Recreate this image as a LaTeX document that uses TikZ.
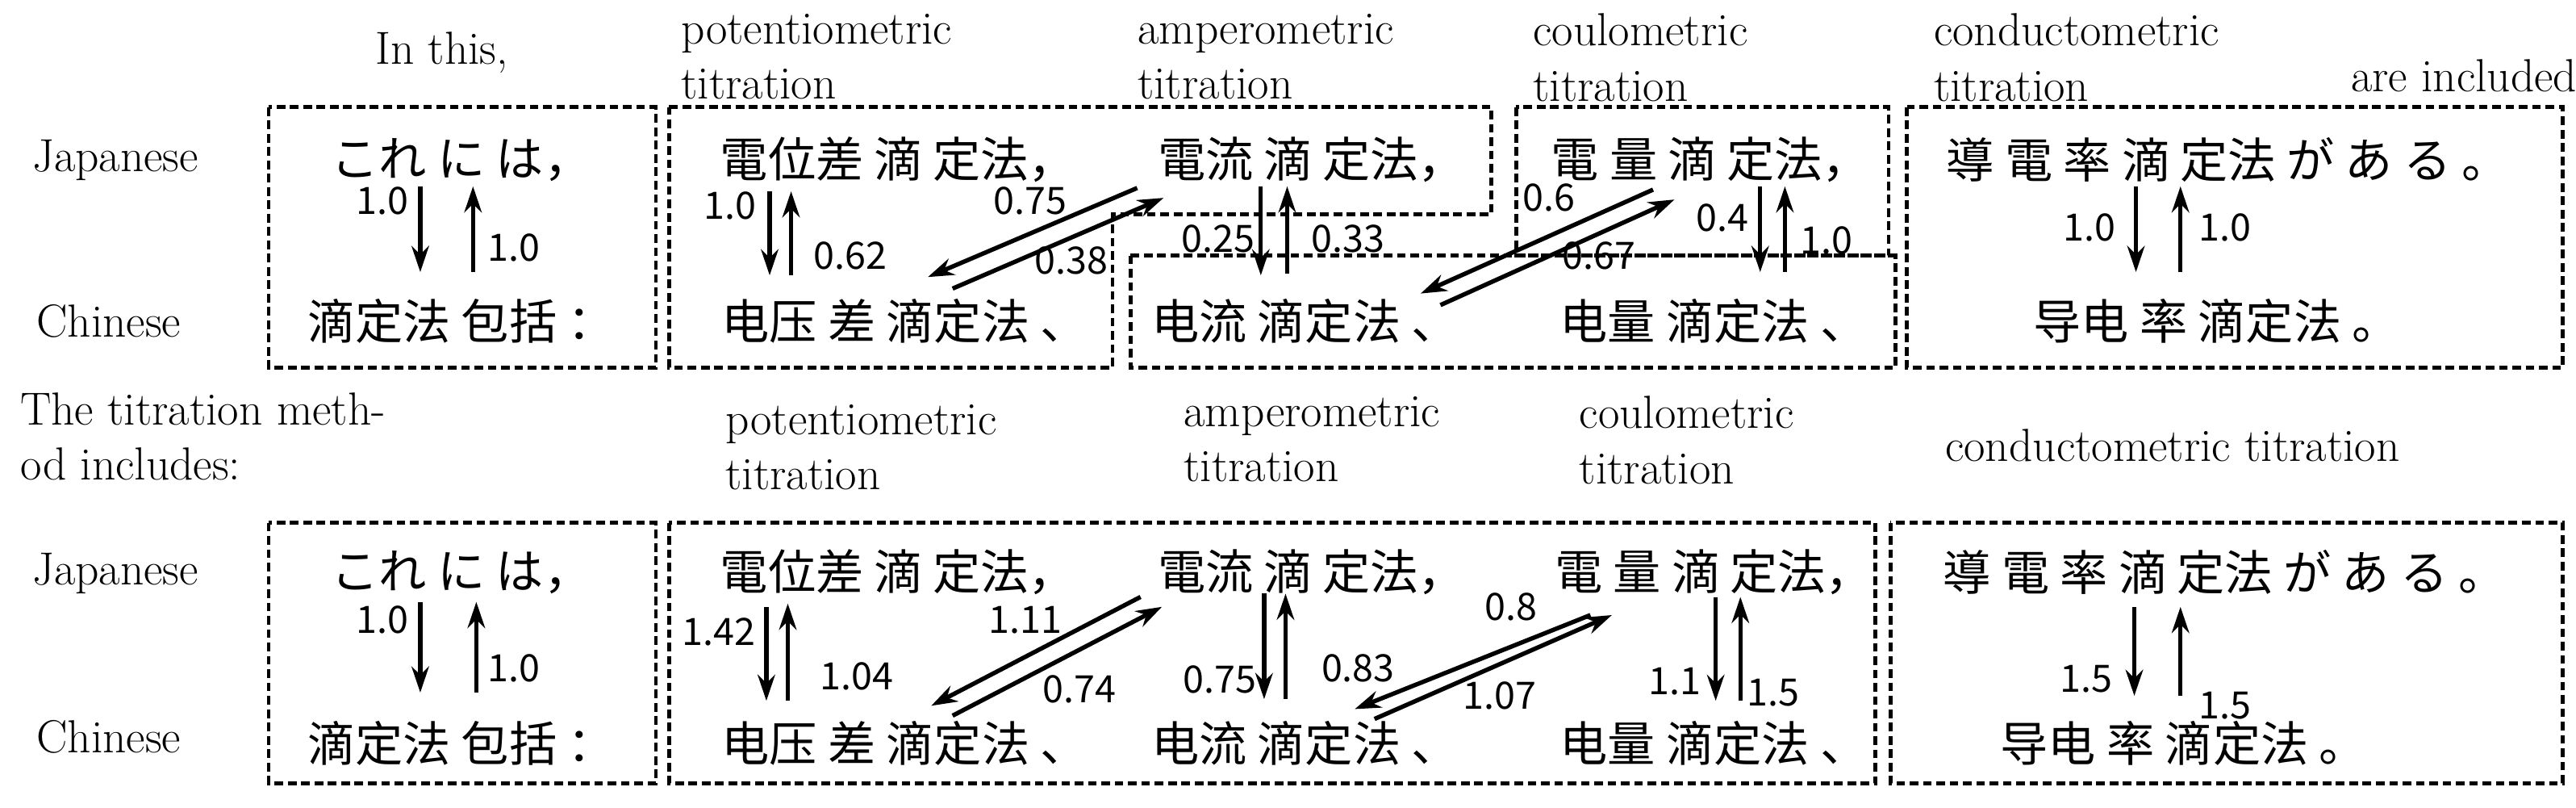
\documentclass[tikz,border=0pt]{standalone}
\usepackage{fontspec}
\newfontfamily\jpfont{Noto Sans CJK JP}
\newfontfamily\scfont{Noto Sans CJK SC}
\usetikzlibrary{arrows.meta}
\tikzset{
 lab/.style={font=\fontsize{16}{18}\selectfont, inner sep=0pt},
 en/.style={font=\fontsize{16}{19}\selectfont, inner sep=0pt, anchor=west, align=left},
 jpt/.style={font=\jpfont\fontsize{16.5}{19}\selectfont, inner sep=0pt},
 cnt/.style={font=\scfont\fontsize{16.5}{19}\selectfont, inner sep=0pt},
 num/.style={font=\jpfont\fontsize{13}{15}\selectfont, inner sep=0pt},
 box/.style={draw, line width=1.3pt, dash pattern=on 3pt off 1.6pt},
 arr/.style={line width=1.5pt, -{Stealth[length=9pt,width=6pt]}}
}
\begin{document}
\begin{tikzpicture}[x=0.02cm,y=-0.02cm]
\useasboundingbox (0,0) rectangle (1563,490);
% ===== top =====
\node[lab] (t0) at (268,32) {In this,};
\node[en, anchor=north west] (t1) at (413,8) {potentiometric\\titration};
\node[en, anchor=north west] (t2) at (690,8) {amperometric\\titration};
\node[en, anchor=north west] (t3) at (930,8) {coulometric\\titration};
\node[en, anchor=north west] (t4) at (1173,8) {conductometric\\titration};
\node[lab] (t5) at (1495,46) {are included};
\node[lab] (jA) at (70,97) {Japanese};
\node[lab] (cA) at (66,195) {Chinese};
\draw[box] (163,65) rectangle (398,223);
\draw[box] (406,65) -- (905,65) -- (905,130) -- (675,130) -- (675,223) -- (406,223) -- cycle;
\draw[box] (920,65) rectangle (1146,155);
\draw[box] (686,155) rectangle (1150,223);
\draw[box] (1157,65) rectangle (1555,223);
\node[jpt] (j1) at (280,97) {これ に は，};
\node[cnt] (c1) at (280,195) {滴定法 包括 ：};
\node[jpt] (j2) at (545,97) {電位差 滴 定法，};
\node[cnt] (c2) at (549,195) {电压 差 滴定法 、};
\node[jpt] (j3) at (796,97) {電流 滴 定法，};
\node[cnt] (c3) at (792,195) {电流 滴定法 、};
\node[jpt] (j4) at (1038,97) {電 量 滴 定法，};
\node[cnt] (c4) at (1040,195) {电量 滴定法 、};
\node[jpt] (j5) at (1352,97) {導 電 率 滴 定法 が あ る 。};
\node[cnt] (c5) at (1345,195) {导电 率 滴定法 。};
\draw[arr] (255,113) coordinate (a1) -- (255,165) coordinate (a2);
\draw[arr] (287,165) coordinate (a3) -- (287,113) coordinate (a4);
\node[num] at (232,122) {1.0};
\node[num] at (312,150) {1.0};
\draw[arr] (467,116) coordinate (b1) -- (467,167) coordinate (b2);
\draw[arr] (480,167) coordinate (b3) -- (480,116) coordinate (b4);
\node[num] at (443,125) {1.0};
\node[num] at (516,155) {0.62};
\draw[arr] (690,114) coordinate (b5) -- (563,168) coordinate (b6);
\draw[arr] (578,175) coordinate (b7) -- (706,120) coordinate (b8);
\node[num] at (625,122) {0.75};
\node[num] at (650,158) {0.38};
\draw[arr] (765,113) coordinate (d1) -- (765,167) coordinate (d2);
\draw[arr] (781,166) coordinate (d3) -- (781,113) coordinate (d4);
\node[num] at (739,145) {0.25};
\node[num] at (818,145) {0.33};
\draw[arr] (1003,115) coordinate (e1) -- (862,178) coordinate (e2);
\draw[arr] (874,185) coordinate (e3) -- (1016,121) coordinate (e4);
\node[num] at (940,120) {0.6};
\node[num] at (970,155) {0.67};
\draw[arr] (1068,113) coordinate (f1) -- (1068,165) coordinate (f2);
\draw[arr] (1083,165) coordinate (f3) -- (1083,113) coordinate (f4);
\node[num] at (1045,132) {0.4};
\node[num] at (1108,146) {1.0};
\draw[arr] (1296,113) coordinate (g1) -- (1296,165) coordinate (g2);
\draw[arr] (1323,165) coordinate (g3) -- (1323,113) coordinate (g4);
\node[num] at (1268,138) {1.0};
\node[num] at (1350,138) {1.0};
% ===== bottom =====
\node[en, anchor=north west] (u0) at (12,238) {The titration meth-\\od includes:};
\node[en, anchor=north west] (u1) at (440,245) {potentiometric\\titration};
\node[en, anchor=north west] (u2) at (718,240) {amperometric\\titration};
\node[en, anchor=north west] (u3) at (958,240) {coulometric\\titration};
\node[en] (u4) at (1180,270) {conductometric titration};
\node[lab] (jB) at (70,348) {Japanese};
\node[lab] (cB) at (66,447) {Chinese};
\draw[box] (163,317) rectangle (398,475);
\draw[box] (406,317) rectangle (1138,475);
\draw[box] (1147,317) rectangle (1555,475);
\node[jpt] (k1) at (280,347) {これ に は，};
\node[cnt] (m1) at (280,451) {滴定法 包括 ：};
\node[jpt] (k2) at (545,347) {電位差 滴 定法，};
\node[cnt] (m2) at (549,451) {电压 差 滴定法 、};
\node[jpt] (k3) at (796,347) {電流 滴 定法，};
\node[cnt] (m3) at (792,451) {电流 滴定法 、};
\node[jpt] (k4) at (1040,347) {電 量 滴 定法，};
\node[cnt] (m4) at (1040,451) {电量 滴定法 、};
\node[jpt] (k5) at (1350,347) {導 電 率 滴 定法 が あ る 。};
\node[cnt] (m5) at (1325,451) {导电 率 滴定法 。};
\draw[arr] (255,365) coordinate (p1) -- (255,420) coordinate (p2);
\draw[arr] (289,420) coordinate (p3) -- (289,365) coordinate (p4);
\node[num] at (232,376) {1.0};
\node[num] at (312,405) {1.0};
\draw[arr] (465,368) coordinate (q1) -- (465,425) coordinate (q2);
\draw[arr] (478,425) coordinate (q3) -- (478,366) coordinate (q4);
\node[num] at (436,383) {1.42};
\node[num] at (520,410) {1.04};
\draw[arr] (692,362) coordinate (q5) -- (565,428) coordinate (q6);
\draw[arr] (578,434) coordinate (q7) -- (705,368) coordinate (q8);
\node[num] at (622,376) {1.11};
\node[num] at (655,418) {0.74};
\draw[arr] (767,360) coordinate (r1) -- (767,424) coordinate (r2);
\draw[arr] (780,424) coordinate (r3) -- (780,360) coordinate (r4);
\node[num] at (740,412) {0.75};
\node[num] at (824,405) {0.83};
\draw[arr] (965,373) coordinate (s1) -- (822,430) coordinate (s2);
\draw[arr] (834,436) coordinate (s3) -- (978,373) coordinate (s4);
\node[num] at (917,368) {0.8};
\node[num] at (910,422) {1.07};
\draw[arr] (1041,362) coordinate (v1) -- (1041,425) coordinate (v2);
\draw[arr] (1056,425) coordinate (v3) -- (1056,362) coordinate (v4);
\node[num] at (1016,413) {1.1};
\node[num] at (1076,420) {1.5};
\draw[arr] (1295,368) coordinate (w1) -- (1295,422) coordinate (w2);
\draw[arr] (1323,422) coordinate (w3) -- (1323,368) coordinate (w4);
\node[num] at (1266,412) {1.5};
\node[num] at (1350,428) {1.5};
\end{tikzpicture}
\end{document}
